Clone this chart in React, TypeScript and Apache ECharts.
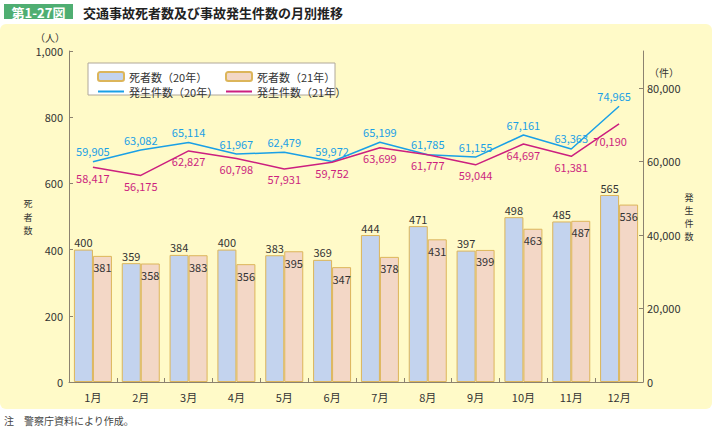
import React, { useEffect, useRef } from "react";
import * as echarts from "echarts";

const months = ["1月", "2月", "3月", "4月", "5月", "6月", "7月", "8月", "9月", "10月", "11月", "12月"];
const deaths20 = [400, 359, 384, 400, 383, 369, 444, 471, 397, 498, 485, 565];
const deaths21 = [381, 358, 383, 356, 395, 347, 378, 431, 399, 463, 487, 536];
const accidents20 = [59905, 63082, 65114, 61967, 62479, 59972, 65199, 61785, 61155, 67161, 63363, 74965];
const accidents21 = [58417, 56175, 62827, 60798, 57931, 59752, 63699, 61777, 59044, 64697, 61381, 70190];
const leftTicks = { min: 0, max: 1000, interval: 200 };
const rightTicks = { min: 0, max: 90000, interval: 20000 };

const FONT = '"Noto Sans CJK JP", "Noto Sans", sans-serif';
const fmt = (v: number) => v.toLocaleString("en-US");

export default function App() {
  const ref = useRef<HTMLDivElement>(null);
  useEffect(() => {
    if (!ref.current) return;
    const chart = echarts.init(ref.current, null, { renderer: "svg" });
    const axisColor = "#8c8270";
    const textColor = "#333";
    const border = "#dcb55a";
    const blue = "#1aa0e6";
    const magenta = "#cc1f7f";
    const lastShift = (arr: number[], offset: number[]) =>
      arr.map((v, i) => (i === arr.length - 1 ? { value: v, label: { offset } } : v));
    const vertical = (chars: string, x: number, yc: number, step: number) => {
      const n = chars.length;
      return chars.split("").map((c, i) => ({
        type: "text",
        x,
        y: yc + (i - (n - 1) / 2) * step,
        style: { text: c, fill: textColor, fontSize: 9, fontFamily: FONT, align: "center", verticalAlign: "middle" },
      }));
    };
    chart.setOption({
      animation: false,
      backgroundColor: "#ffffff",
      textStyle: { fontFamily: FONT },
      grid: { left: 69, right: 73, top: 51, bottom: 48 },
      legend: [
        {
          left: 92, top: 66, orient: "vertical", itemGap: 4, itemWidth: 26, itemHeight: 9,
          textStyle: { fontSize: 11, color: textColor, fontFamily: FONT },
          data: ["死者数（20年）", { name: "発生件数（20年）", itemStyle: { opacity: 0 } }],
        },
        {
          left: 220, top: 66, orient: "vertical", itemGap: 4, itemWidth: 26, itemHeight: 9,
          textStyle: { fontSize: 11, color: textColor, fontFamily: FONT },
          data: ["死者数（21年）", { name: "発生件数（21年）", itemStyle: { opacity: 0 } }],
        },
      ],
      xAxis: {
        type: "category",
        data: months,
        boundaryGap: true,
        axisLine: { lineStyle: { color: axisColor } },
        axisTick: { show: true, inside: true, length: 4, lineStyle: { color: axisColor } },
        axisLabel: { color: textColor, fontSize: 11, margin: 9, fontFamily: FONT },
      },
      yAxis: [
        {
          type: "value",
          ...leftTicks,
          axisLine: { show: true, lineStyle: { color: axisColor } },
          axisTick: { show: true, inside: true, length: 4, lineStyle: { color: axisColor } },
          splitLine: { show: false },
          axisLabel: { color: textColor, fontSize: 11, margin: 6, formatter: (v: number) => fmt(v), fontFamily: FONT },
        },
        {
          type: "value",
          ...rightTicks,
          position: "right",
          axisLine: { show: true, lineStyle: { color: axisColor } },
          axisTick: { show: true, inside: true, length: 4, lineStyle: { color: axisColor } },
          splitLine: { show: false },
          axisLabel: { color: textColor, fontSize: 11, margin: 4, showMaxLabel: false, formatter: (v: number) => fmt(v), fontFamily: FONT },
        },
      ],
      series: [
        {
          name: "死者数（20年）",
          type: "bar",
          data: deaths20,
          barWidth: 19,
          barGap: "0%",
          itemStyle: { color: "#c3d3ee", borderColor: border, borderWidth: 1 },
          label: { show: true, position: "top", distance: 2, color: textColor, fontSize: 11, fontFamily: FONT },
        },
        {
          name: "死者数（21年）",
          type: "bar",
          data: deaths21,
          barWidth: 19,
          barGap: "0%",
          itemStyle: { color: "#f3d7c6", borderColor: border, borderWidth: 1 },
          label: { show: true, position: "insideTop", distance: 6, color: textColor, fontSize: 11, fontFamily: FONT },
        },
        {
          name: "発生件数（20年）",
          type: "line",
          yAxisIndex: 1,
          data: lastShift(accidents20, [-5, 0]),
          symbol: "circle",
          symbolSize: 0,
          showSymbol: true,
          lineStyle: { color: blue, width: 1.5 },
          itemStyle: { color: blue },
          label: { show: true, position: "top", distance: 5, color: blue, fontSize: 11, formatter: (p: any) => fmt(p.value), fontFamily: FONT },
        },
        {
          name: "発生件数（21年）",
          type: "line",
          yAxisIndex: 1,
          data: lastShift(accidents21, [-9, 7]),
          symbol: "circle",
          symbolSize: 0,
          showSymbol: true,
          lineStyle: { color: magenta, width: 1.5 },
          itemStyle: { color: magenta },
          label: { show: true, position: "bottom", distance: 5, color: magenta, fontSize: 11, formatter: (p: any) => fmt(p.value), fontFamily: FONT },
        },
      ],
      graphic: [
        { type: "rect", z: -10, shape: { x: 0, y: 24, width: 712, height: 385, r: 6 }, style: { fill: "#fffac8" } },
        { type: "rect", z: 1, shape: { x: 88, y: 63, width: 247, height: 32 }, style: { fill: "#ffffff", stroke: "#b0a89a", lineWidth: 1 } },
        { type: "rect", shape: { x: 4, y: 4, width: 69, height: 15 }, style: { fill: "#4fae72" } },
        { type: "text", x: 38.5, y: 12, style: { text: "第1-27図", fill: "#ffffff", fontSize: 13, fontWeight: "bold", fontFamily: FONT, align: "center", verticalAlign: "middle" } },
        { type: "text", x: 83, y: 12, style: { text: "交通事故死者数及び事故発生件数の月別推移", fill: "#222", fontSize: 13, fontWeight: "bold", fontFamily: FONT, verticalAlign: "middle" } },
        { type: "text", x: 50, y: 37, style: { text: "（人）", fill: textColor, fontSize: 10, fontFamily: FONT, align: "center", verticalAlign: "middle" } },
        { type: "text", x: 664, y: 72, style: { text: "（件）", fill: textColor, fontSize: 10, fontFamily: FONT, align: "center", verticalAlign: "middle" } },
        ...vertical("死者数", 28, 217, 13.2),
        ...vertical("発生件数", 689, 217, 13.2),
        { type: "text", x: 4, y: 420, style: { text: "注　警察庁資料により作成。", fill: "#444", fontSize: 10, fontFamily: FONT, verticalAlign: "middle" } },
      ],
    });
    return () => chart.dispose();
  }, []);
  return (
    <div
      ref={ref}
      style={{ position: "fixed", left: 0, top: 0, width: 716, height: 430 }}
    />
  );
}
